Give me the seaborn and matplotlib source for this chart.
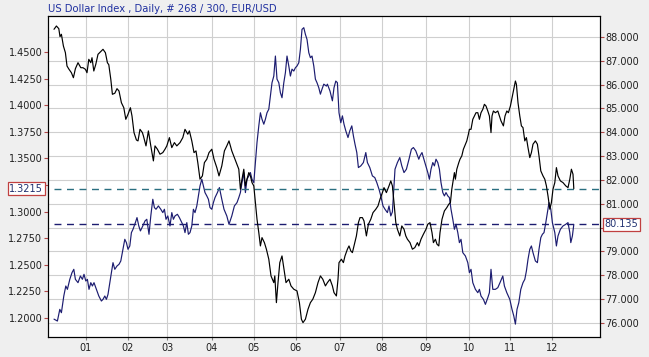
import matplotlib
matplotlib.use("Agg")
import matplotlib.pyplot as plt
import matplotlib.transforms as mtransforms
import seaborn as sns
import pandas as pd

# ---------------- data ----------------
eur_day = [0.0, 1.2, 2.4, 3.0, 3.7, 4.7, 5.7, 6.5, 7.5, 8.7, 9.7, 10.7, 12.0, 13.4, 14.5, 15.7, 16.5, 17.4, 18.4, 19.0,
           19.9, 20.9, 22.0, 23.2, 24.5, 25.7, 26.7, 27.4, 28.4, 29.2, 30.4, 31.5, 32.5, 33.7, 34.9, 35.9, 37.0, 38.2, 39.0, 40.0,
           41.2, 42.0, 43.0, 44.2, 44.7, 46.0, 47.2, 48.4, 49.7, 50.5, 51.7, 53.0, 54.4, 55.5, 56.4, 57.7, 58.9, 60.2, 61.4, 63.0,
           64.4, 65.5, 66.9, 67.7, 68.9, 70.0, 71.0, 71.9, 73.0, 74.2, 75.2, 76.4, 77.5, 78.9, 80.0, 81.4, 82.5, 83.9, 85.2, 86.4,
           87.5, 88.9, 90.2, 92.4, 93.2, 94.0, 94.9, 95.7, 96.5, 97.4, 98.2, 99.0, 99.9, 100.7, 101.5, 102.4, 103.2, 104.0, 105.2, 106.2,
           107.4, 108.5, 109.9, 110.4, 111.2, 112.0, 112.9, 114.0, 115.0, 116.0, 117.4, 118.5, 119.9, 121.5, 122.7, 123.7, 124.5, 125.7, 127.0, 128.2,
           129.4, 130.7, 132.0, 133.2, 134.4, 135.7, 136.7, 138.0, 139.2, 140.0, 141.2, 142.0, 142.5, 143.7, 144.7, 145.5, 146.7, 147.5, 148.4, 149.2,
           150.4, 151.2, 152.2, 153.0, 154.2, 155.0, 156.2, 157.2, 158.4, 159.5, 160.9, 162.0, 163.0, 164.2, 165.0, 166.2, 167.5, 168.4, 169.2, 170.0,
           170.9, 171.7, 172.9, 173.9, 175.0, 175.9, 176.7, 178.0, 179.2, 180.4, 181.7, 182.4, 183.5, 184.7, 186.0, 186.9, 188.0, 189.0, 189.7, 190.7,
           191.5, 192.4, 193.0, 194.0, 195.2, 196.4, 197.4, 198.2, 198.9, 199.4, 200.2, 200.7, 201.4, 202.4, 203.0, 203.9, 204.7, 205.7, 206.4, 207.2,
           207.7, 208.5, 209.4, 210.2, 211.0, 211.9, 212.7, 213.5, 214.4, 215.2, 216.0, 216.9, 217.7, 218.5, 219.0, 219.7, 220.7, 221.9, 222.7, 223.5,
           224.7, 225.5, 226.4, 227.2, 228.2, 229.5, 230.7, 231.2, 232.0, 232.9, 233.7, 234.5, 235.4, 236.2, 237.0, 237.9, 238.7, 239.5, 240.7, 241.7,
           242.5, 243.4, 244.5, 245.4, 246.2, 247.0, 247.9, 248.7, 249.5, 250.4, 251.2, 252.0, 253.2, 254.5, 255.9, 257.0, 257.9, 258.7, 259.5, 259.9]
eur_usd = [1.4713, 1.4744, 1.4719, 1.4644, 1.4666, 1.4556, 1.4493, 1.4368, 1.4337, 1.4305, 1.4258, 1.4343, 1.4399, 1.4352, 1.4352, 1.4337, 1.4305, 1.4431, 1.4399, 1.4446,
           1.4321, 1.4384, 1.4478, 1.4500, 1.4525, 1.4493, 1.4399, 1.4380, 1.4243, 1.4102, 1.4112, 1.4155, 1.4133, 1.4023, 1.3976, 1.3867, 1.3914, 1.3976, 1.3898, 1.3742,
           1.3673, 1.3664, 1.3773, 1.3742, 1.3711, 1.3617, 1.3758, 1.3617, 1.3476, 1.3617, 1.3586, 1.3539, 1.3554, 1.3586, 1.3617, 1.3695, 1.3601, 1.3648, 1.3617, 1.3648,
           1.3695, 1.3773, 1.3727, 1.3758, 1.3664, 1.3554, 1.3570, 1.3460, 1.3304, 1.3335, 1.3460, 1.3492, 1.3554, 1.3586, 1.3492, 1.3413, 1.3335, 1.3429, 1.3570, 1.3617,
           1.3664, 1.3570, 1.3507, 1.3398, 1.3210, 1.3304, 1.3398, 1.3241, 1.3304, 1.3366, 1.3335, 1.3272, 1.3241, 1.3084, 1.2928, 1.2802, 1.2677, 1.2755, 1.2708, 1.2646,
           1.2552, 1.2395, 1.2332, 1.2395, 1.2144, 1.2332, 1.2520, 1.2583, 1.2458, 1.2332, 1.2364, 1.2301, 1.2270, 1.2254, 1.2144, 1.1988, 1.1956, 1.1988, 1.2082, 1.2144,
           1.2176, 1.2238, 1.2332, 1.2395, 1.2364, 1.2301, 1.2332, 1.2364, 1.2301, 1.2238, 1.2207, 1.2364, 1.2520, 1.2552, 1.2520, 1.2583, 1.2646, 1.2677, 1.2630, 1.2614,
           1.2708, 1.2771, 1.2896, 1.2943, 1.2943, 1.2912, 1.2771, 1.2881, 1.2928, 1.2990, 1.3022, 1.3053, 1.3116, 1.3178, 1.3225, 1.3178, 1.3241, 1.3288, 1.3241, 1.3084,
           1.2896, 1.2834, 1.2771, 1.2865, 1.2834, 1.2771, 1.2740, 1.2708, 1.2646, 1.2661, 1.2708, 1.2677, 1.2740, 1.2787, 1.2834, 1.2881, 1.2896, 1.2802, 1.2708, 1.2740,
           1.2693, 1.2677, 1.2802, 1.2928, 1.3006, 1.3037, 1.3069, 1.3084, 1.3210, 1.3272, 1.3366, 1.3304, 1.3398, 1.3460, 1.3492, 1.3523, 1.3586, 1.3633, 1.3664, 1.3727,
           1.3773, 1.3773, 1.3867, 1.3898, 1.3929, 1.3929, 1.3867, 1.3929, 1.3961, 1.4008, 1.3992, 1.3945, 1.3898, 1.3742, 1.3898, 1.3945, 1.3929, 1.3945, 1.3898, 1.3852,
           1.3805, 1.3898, 1.3945, 1.3929, 1.3992, 1.4117, 1.4227, 1.4196, 1.4023, 1.3898, 1.3805, 1.3789, 1.3664, 1.3695, 1.3601, 1.3507, 1.3554, 1.3633, 1.3664, 1.3633,
           1.3523, 1.3382, 1.3335, 1.3304, 1.3241, 1.3147, 1.3022, 1.3084, 1.3210, 1.3272, 1.3413, 1.3335, 1.3288, 1.3272, 1.3241, 1.3225, 1.3304, 1.3398, 1.3351, 1.3215]

dxy_day = [0.0, 1.7, 2.9, 3.7, 4.9, 5.9, 6.7, 7.9, 9.0, 9.9, 10.7, 12.0, 13.2, 14.2, 15.0, 15.9, 16.7, 17.5, 18.4, 19.2,
           20.0, 21.2, 22.4, 23.7, 24.5, 25.4, 26.2, 27.0, 27.9, 28.7, 29.5, 30.4, 31.5, 32.5, 33.4, 34.5, 35.4, 36.2, 37.0, 37.9,
           38.7, 39.5, 40.7, 41.5, 42.4, 43.2, 44.4, 45.5, 46.4, 47.5, 48.4, 49.4, 50.2, 51.0, 52.2, 53.4, 54.4, 55.2, 56.0, 56.9,
           58.0, 58.9, 59.7, 60.5, 61.7, 62.7, 63.5, 64.7, 65.5, 66.4, 67.2, 68.0, 68.9, 69.7, 70.5, 71.4, 72.2, 73.0, 73.9, 74.7,
           75.5, 76.4, 77.2, 78.0, 78.9, 79.7, 80.5, 81.7, 82.7, 83.9, 85.0, 86.4, 87.5, 88.9, 90.2, 91.5, 92.4, 93.2, 94.0, 94.9,
           95.7, 96.5, 97.4, 98.2, 99.0, 99.9, 100.7, 101.5, 102.4, 103.2, 104.0, 104.9, 105.7, 106.5, 107.4, 108.2, 109.0, 109.9, 110.7, 111.5,
           112.4, 113.2, 114.0, 114.9, 115.7, 116.5, 117.4, 118.2, 119.0, 119.9, 120.7, 121.5, 122.4, 123.2, 124.0, 124.9, 125.7, 126.5, 127.4, 128.2,
           129.0, 129.9, 130.7, 131.5, 132.4, 133.2, 134.0, 134.9, 136.2, 136.7, 138.0, 139.2, 140.0, 140.9, 141.7, 142.5, 143.4, 144.2, 145.0, 145.9,
           147.0, 147.9, 148.9, 149.7, 150.5, 151.4, 152.2, 153.4, 154.7, 155.9, 156.7, 157.9, 159.2, 160.4, 161.4, 162.5, 163.4, 164.5, 165.5, 166.7,
           167.5, 168.4, 169.2, 170.5, 171.7, 172.9, 173.9, 175.0, 176.2, 177.5, 178.7, 179.7, 180.9, 182.4, 183.0, 184.0, 184.7, 185.7, 186.9, 187.7,
           188.5, 189.4, 190.2, 191.0, 191.9, 192.7, 193.5, 194.4, 195.2, 196.0, 196.9, 197.7, 198.5, 199.4, 200.2, 201.0, 201.9, 202.7, 203.5, 204.4,
           205.7, 206.9, 207.7, 208.5, 209.4, 210.7, 211.9, 212.7, 213.5, 214.7, 215.7, 216.9, 217.7, 218.5, 219.4, 220.7, 221.9, 223.0, 224.4, 225.2,
           226.4, 227.9, 229.0, 229.9, 230.7, 231.5, 232.4, 233.4, 234.5, 235.4, 236.2, 237.0, 237.9, 238.7, 239.5, 240.7, 241.7, 242.5, 243.4, 244.2,
           245.0, 245.9, 246.7, 247.5, 248.4, 249.2, 250.4, 251.2, 252.0, 253.2, 254.5, 255.9, 257.0, 257.9, 258.4, 259.2, 259.9]
dxy = [76.16, 76.08, 76.57, 76.43, 77.13, 77.55, 77.41, 77.83, 78.11, 78.25, 77.83, 77.69, 77.97, 77.83, 78.04, 77.76, 77.83, 77.41, 77.69, 77.55,
       77.69, 77.41, 77.13, 76.92, 76.99, 77.13, 76.99, 77.20, 77.69, 78.11, 78.53, 78.25, 78.39, 78.46, 78.60, 79.09, 79.51, 79.37, 79.09, 79.23,
       79.79, 79.93, 80.21, 80.42, 80.07, 79.86, 80.07, 80.28, 80.35, 79.72, 80.49, 81.19, 80.84, 80.77, 80.91, 80.77, 80.63, 80.77, 80.35, 80.49,
       80.07, 80.63, 80.35, 80.49, 80.56, 80.42, 80.28, 80.07, 79.79, 80.21, 79.72, 79.79, 80.07, 80.77, 80.63, 80.91, 81.33, 81.75, 82.03, 81.75,
       81.47, 81.33, 81.19, 80.84, 80.77, 81.05, 81.26, 81.47, 81.68, 81.19, 80.77, 80.49, 80.14, 80.49, 80.91, 81.05, 81.26, 81.47, 81.89, 82.31,
       81.47, 82.03, 82.17, 82.31, 82.03, 81.89, 82.73, 83.57, 84.27, 84.82, 84.55, 84.34, 84.55, 84.82, 84.97, 85.53, 86.08, 86.36, 87.20, 86.23,
       86.08, 85.66, 85.45, 86.08, 86.50, 87.20, 86.78, 86.36, 86.65, 86.57, 86.71, 86.78, 86.92, 87.48, 88.32, 88.39, 88.11, 87.90, 87.34, 87.13,
       87.20, 86.78, 86.23, 86.08, 85.87, 85.60, 85.81, 86.02, 85.94, 86.02, 85.73, 85.32, 85.87, 86.15, 86.08, 84.82, 84.40, 84.69, 84.34, 84.06,
       83.78, 84.06, 84.27, 83.85, 83.50, 83.15, 82.52, 82.59, 82.73, 83.15, 82.73, 82.52, 82.17, 82.10, 81.89, 81.61, 81.33, 80.91, 80.77, 80.63,
       80.91, 80.49, 80.66, 82.45, 82.73, 82.94, 82.59, 82.31, 82.45, 82.87, 83.29, 83.36, 83.22, 82.87, 83.01, 83.15, 82.94, 82.66, 82.31, 82.03,
       82.45, 82.73, 82.59, 82.87, 82.73, 82.45, 81.89, 81.47, 81.33, 81.47, 81.33, 81.26, 80.77, 80.35, 79.93, 80.14, 79.79, 79.37, 79.51, 78.95,
       78.81, 78.53, 78.11, 78.25, 77.69, 77.41, 77.27, 77.41, 77.13, 76.99, 76.78, 77.06, 77.27, 78.25, 77.41, 77.41, 77.48, 77.69, 77.97, 77.55,
       77.27, 76.99, 76.57, 76.29, 75.95, 76.57, 76.85, 77.41, 77.69, 77.83, 78.18, 78.67, 79.09, 79.23, 78.95, 78.60, 78.53, 79.09, 79.58, 79.72,
       79.79, 80.21, 80.63, 81.05, 80.77, 80.21, 79.79, 79.23, 79.65, 79.93, 80.07, 80.14, 80.21, 79.79, 79.37, 79.65, 80.135]

month_labels = ["01", "02", "03", "04", "05", "06", "07", "08", "09", "10", "11", "12"]
month_start_day = [16, 37, 56.5, 79, 100, 121, 143, 164, 186, 207.5, 228, 249]
eur_ticks = [1.2000, 1.2250, 1.2500, 1.2750, 1.3000, 1.3250, 1.3500, 1.3750, 1.4000, 1.4250, 1.4500]
dxy_ticks = [76, 77, 78, 79, 80, 81, 82, 83, 84, 85, 86, 87, 88]
eur_last = 1.3215
dxy_last = 80.135
title_text = "US Dollar Index , Daily, # 268 / 300, EUR/USD"

eur_df = pd.DataFrame({"day": eur_day, "EUR/USD": eur_usd})
dxy_df = pd.DataFrame({"day": dxy_day, "USDX": dxy})

# ---------------- styling ----------------
sns.set_theme(style="white")
plt.rcParams["font.family"] = ["DejaVu Sans"]

W, H = 649, 357
fig = plt.figure(figsize=(W / 100, H / 100), dpi=100, facecolor="#efefef")
L, R, T, B = 48, 600, 16, 337
ax = fig.add_axes([L / W, 1 - B / H, (R - L) / W, (B - T) / H])
ax.set_facecolor("white")
ax2 = ax.twinx()

GRID = "#cfcfcf"
TICKC = "#b04848"
NAVY = "#1c1c70"

# Dollar index (right axis) on ax
sns.lineplot(data=dxy_df, x="day", y="USDX", ax=ax, color=NAVY, linewidth=0.85,
             estimator=None, sort=False, legend=False)
# EUR/USD (left axis) on ax2
sns.lineplot(data=eur_df, x="day", y="EUR/USD", ax=ax2, color="black", linewidth=0.85,
             estimator=None, sort=False, legend=False)

xmin, xmax = -3, 273
ax.set_xlim(xmin, xmax)
ax.set_ylim(75.41, 88.88)
ax2.set_ylim(1.1821, 1.4838)

# grid: horizontal at dollar-index ticks, vertical at month starts
for v in dxy_ticks:
    ax.axhline(v, color=GRID, lw=0.8, zorder=0.5)
for d in month_start_day:
    ax.axvline(d, color=GRID, lw=0.8, zorder=0.5)

# last-value dashed lines
ax2.hlines(eur_last, eur_day[0], xmax, colors="#2a6f80", linestyles=(0, (5, 4)), lw=1.0, zorder=1)
ax.hlines(dxy_last, dxy_day[0], xmax, colors=NAVY, linestyles=(0, (5, 4)), lw=1.0, zorder=1)

# axes / ticks (labels hidden behind the last-value boxes are left blank)
ax.yaxis.tick_right()
ax.yaxis.set_label_position("right")
ax.set_yticks(dxy_ticks)
ax.set_yticklabels(["" if abs(v - dxy_last) < 0.5 else f"{v:.3f}" for v in dxy_ticks])
ax2.yaxis.tick_left()
ax2.yaxis.set_label_position("left")
ax2.set_yticks(eur_ticks)
ax2.set_yticklabels(["" if abs(v - eur_last) < 0.01 else f"{v:.4f}" for v in eur_ticks])
ax.set_xticks(month_start_day)
ax.set_xticklabels(month_labels)

for a in (ax, ax2):
    a.set_xlabel("")
    a.set_ylabel("")
    for s in a.spines.values():
        s.set_visible(True)
        s.set_color("black")
        s.set_linewidth(0.8)

ax.tick_params(axis="y", which="both", right=True, left=False, labelright=True, labelleft=False,
               length=3, width=0.8, color=TICKC, pad=1, labelsize=7, labelcolor="#202020")
ax2.tick_params(axis="y", which="both", left=True, right=False, labelleft=True, labelright=False,
                length=3, width=0.8, color=TICKC, pad=1, labelsize=7, labelcolor="#202020")
ax.tick_params(axis="x", bottom=True, length=2, width=0.8, color="#808080", pad=2,
               labelsize=7, labelcolor="#202020")
ax2.tick_params(axis="x", bottom=False, labelbottom=False)

# last value boxes
box = dict(boxstyle="square,pad=0.18", fc="white", ec="#c04040", lw=0.9)
ax2.text(-0.0085, eur_last, f"{eur_last:.4f}", ha="right", va="center", fontsize=7,
         color="#203070", bbox=box, clip_on=False, zorder=10,
         transform=mtransforms.blended_transform_factory(ax2.transAxes, ax2.transData))
ax2.text(1.0085, dxy_last, f"{dxy_last:.3f}", ha="left", va="center", fontsize=7,
         color="#203070", bbox=box, clip_on=False, zorder=10,
         transform=mtransforms.blended_transform_factory(ax2.transAxes, ax.transData))

fig.text(L / W, 1 - 12.5 / H, title_text, ha="left", va="baseline", fontsize=7.2, color="#2030a0")

fig.savefig("out.png", dpi=100, facecolor=fig.get_facecolor())
